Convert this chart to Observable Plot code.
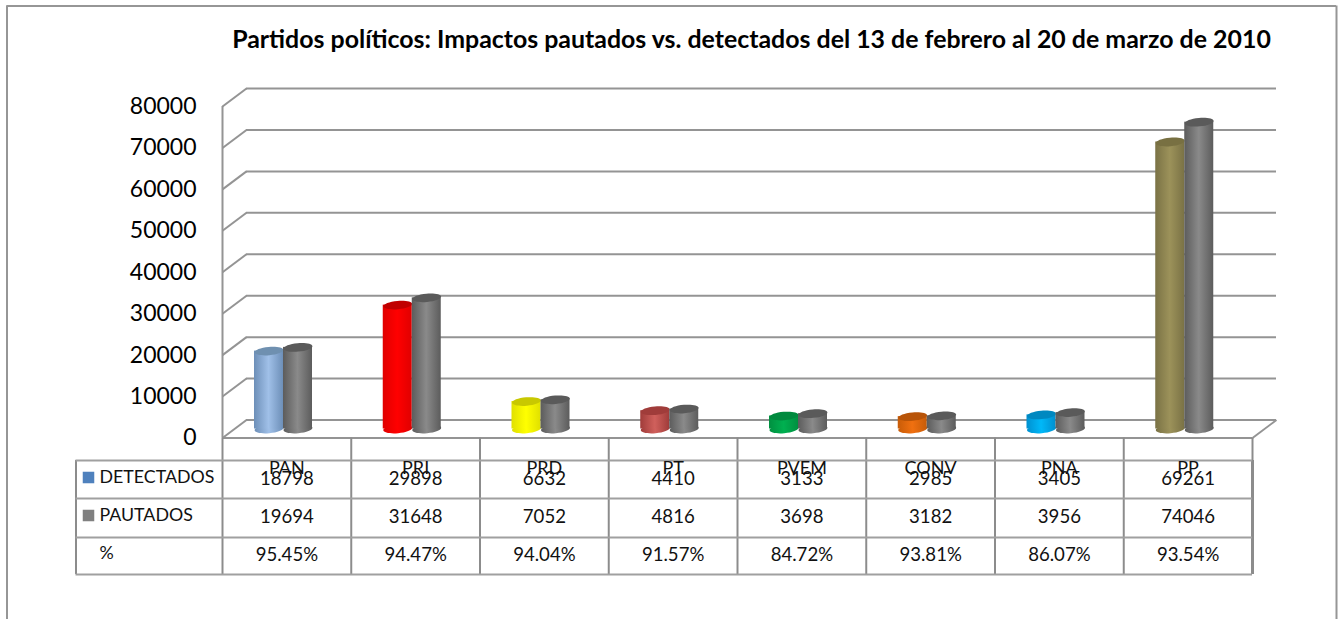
<!DOCTYPE html>
<html>
<head>
<meta charset="utf-8">
<script src="https://cdn.jsdelivr.net/npm/d3@7"></script>
<script src="https://cdn.jsdelivr.net/npm/@observablehq/plot@0.6"></script>
<style>
html,body{margin:0;padding:0;background:#fff}
svg{display:block}
</style>
</head>
<body>
<div id="chart"></div>
<script>
const title = "Partidos políticos: Impactos pautados vs. detectados del 13 de febrero al 20 de marzo de 2010";
const parties = ["PAN","PRI","PRD","PT","PVEM","CONV","PNA","PP"];
const detectados = [18798,29898,6632,4410,3133,2985,3405,69261];
const pautados = [19694,31648,7052,4816,3698,3182,3956,74046];
const percent = ["95.45%","94.47%","94.04%","91.57%","84.72%","93.81%","86.07%","93.54%"];
const yTicks = [0,10000,20000,30000,40000,50000,60000,70000,80000];
const rowLabels = ["DETECTADOS","PAUTADOS","%"];
// bar colour ramps: edge, centre, cap
const ramps = [
  ["#6d8fb8","#a0c0e8","#6f90b0"],
  ["#e00000","#ff0000","#c00000"],
  ["#e0e000","#ffff00","#c8c800"],
  ["#a03c3a","#d0605c","#a03c3a"],
  ["#009040","#00b050","#008a3e"],
  ["#c85c08","#f07010","#b85408"],
  ["#0090d0","#00b8f8","#0088c0"],
  ["#7a7245","#9c925a","#787042"]
];
const grayRamp = ["#5c5c5c","#8a8a8a","#5a5a5a"];

const W = 1338, H = 619;
const left = 222, right = 1252, top_ = 106, zero = 437.5;
const bandPx = (right - left) / 8;
const pxX = d3.scaleLinear([left, right], [0, 8]);   // pixel -> x units (layout furniture only)
const pxY = d3.scaleLinear([zero, top_], [0, 80000]); // pixel -> y units (layout furniture only)

const barW = 29, barStart = 32, depthX = 24, depthY = 18, barLift = 9;
const table = parties.map((p,i)=>({p,i,det:detectados[i],pau:pautados[i],pct:percent[i]}));

function ellipse(context, size){
  const r = Math.sqrt(size/Math.PI), ry = r*0.29, t = -5*Math.PI/180;
  const k = 0.5523, c = Math.cos(t), s = Math.sin(t);
  const P = (x,y)=>[x*c - y*s, x*s + y*c];
  const pts = [[r,0],[r,k*ry],[k*r,ry],[0,ry],[-k*r,ry],[-r,k*ry],[-r,0],[-r,-k*ry],[-k*r,-ry],[0,-ry],[k*r,-ry],[r,-k*ry],[r,0]].map(q=>P(q[0],q[1]));
  context.moveTo(...pts[0]);
  for(let j=1;j<pts.length;j+=3) context.bezierCurveTo(...pts[j],...pts[j+1],...pts[j+2]);
  context.closePath();
}
const eSymbol = {draw: ellipse};

const gridColor = "#949494", colColor = "#8c8c8c", rowColor = "#a0a0a0", fontFamily = "Lato, sans-serif";
const rows = [460,498,537,574].map(v=>pxY(v));
const rowCenters = [478.5,517,555].map(v=>pxY(v));
const colLines = d3.range(0,9);

function barMarks(key, startPx, gradId, ramp){
  const insetLeft = startPx, insetRight = bandPx - startPx - barW;
  const cx = d => d.i + (startPx + barW/2)/bandPx;
  return [
    Plot.dot(table,{x:cx,y:0,r:barW/2,symbol:eSymbol,dy:-barLift,fill:d=>`url(#${gradId}${d.i})`,stroke:"none"}),
    Plot.rectY(table,{x1:d=>d.i,x2:d=>d.i+1,y1:0,y2:key,insetLeft,insetRight,dy:-barLift,fill:d=>`url(#${gradId}${d.i})`}),
    Plot.dot(table,{x:cx,y:key,r:barW/2,symbol:eSymbol,dy:-barLift,fill:d=>ramp(d.i)[2],stroke:"none"})
  ];
}

const plot = Plot.plot({
  width: W, height: H,
  marginLeft: left, marginRight: W-right, marginTop: top_, marginBottom: H-zero,
  style:{fontFamily, background:"#fff", overflow:"hidden"},
  x:{domain:[0,8], axis:null},
  y:{domain:[0,80000], axis:null},
  color:{type:"identity"},
  marks:[
    // chart border
    Plot.ruleX([pxX(6.5),pxX(1336)],{y1:pxY(5.5),y2:pxY(625),stroke:"#969696",strokeWidth:2}),
    Plot.ruleY([pxY(5.5)],{x1:pxX(6.5),x2:pxX(1336),stroke:"#969696",strokeWidth:2}),
    // back-wall gridlines
    Plot.ruleY(yTicks,{dx:depthX,dy:-depthY,stroke:gridColor,strokeWidth:2}),
    // depth diagonals on left wall
    Plot.link(yTicks,{x1:0,x2:depthX/bandPx,y1:d=>d,y2:d=>d+pxY(zero-depthY),stroke:gridColor,strokeWidth:2}),
    // right floor diagonal
    Plot.link([0],{x1:8,x2:8+depthX/bandPx,y1:0,y2:pxY(zero-depthY),stroke:gridColor,strokeWidth:2}),
    // axis lines
    Plot.ruleX([0],{y1:0,y2:80000,stroke:gridColor,strokeWidth:2}),
    Plot.ruleY([0],{stroke:gridColor,strokeWidth:2}),
    // bars
    ...barMarks(d=>d.det, barStart, "d", i=>ramps[i]),
    ...barMarks(d=>d.pau, barStart+barW, "p", i=>grayRamp),
    // y axis
    Plot.axisY(yTicks,{anchor:"left",tickSize:0,tickPadding:26,fontSize:23,tickFormat:d=>String(d),fill:"#000"}),
    // table lines
    Plot.ruleX(colLines,{y1:pxY(574),y2:0,stroke:colColor,strokeWidth:2}),
    Plot.ruleX([8],{y1:rows[0],y2:rows[3],stroke:colColor,strokeWidth:3}),
    Plot.ruleX([pxX(75.5)],{y1:rows[0],y2:rows[3],stroke:colColor,strokeWidth:2}),
    Plot.ruleY(rows,{x1:pxX(75.5),x2:8,stroke:rowColor,strokeWidth:2}),
    // category labels
    Plot.text(table,{x:d=>d.i+0.5,y:pxY(468),text:"p",fontSize:18,fill:"#111"}),
    // table values
    Plot.text(table,{x:d=>d.i+0.5,y:rowCenters[0],text:d=>String(d.det),fontSize:18.6,fill:"#111"}),
    Plot.text(table,{x:d=>d.i+0.5,y:rowCenters[1],text:d=>String(d.pau),fontSize:18.6,fill:"#111"}),
    Plot.text(table,{x:d=>d.i+0.5,y:rowCenters[2],text:"pct",fontSize:18.6,fill:"#111"}),
    // row labels and keys
    Plot.text(rowLabels,{x:pxX(99),y:(d,i)=>pxY([477,515,553][i]),text:d=>d,textAnchor:"start",fontSize:17.8,fill:"#111"}),
    Plot.dot([0,1],{x:pxX(88),y:i=>pxY([477,515][i]),symbol:"square",r:6.5,fill:i=>["#4f81bd","#808080"][i],stroke:"none"}),
    // title
    Plot.text([title],{x:pxX(751),y:pxY(40),text:d=>d,fontSize:24.9,fontWeight:700,fill:"#000"})
  ]
});

// gradients for the cylindrical shading
const defs = d3.select(plot).append("defs").lower();
function grad(id, r){
  const g = defs.append("linearGradient").attr("id",id).attr("x1","0%").attr("x2","100%").attr("y1","0%").attr("y2","0%");
  g.append("stop").attr("offset","0%").attr("stop-color",r[0]);
  g.append("stop").attr("offset","50%").attr("stop-color",r[1]);
  g.append("stop").attr("offset","100%").attr("stop-color",r[0]);
}
parties.forEach((p,i)=>{grad("d"+i,ramps[i]);grad("p"+i,grayRamp);});
document.getElementById("chart").append(plot);
</script>
</body>
</html>
